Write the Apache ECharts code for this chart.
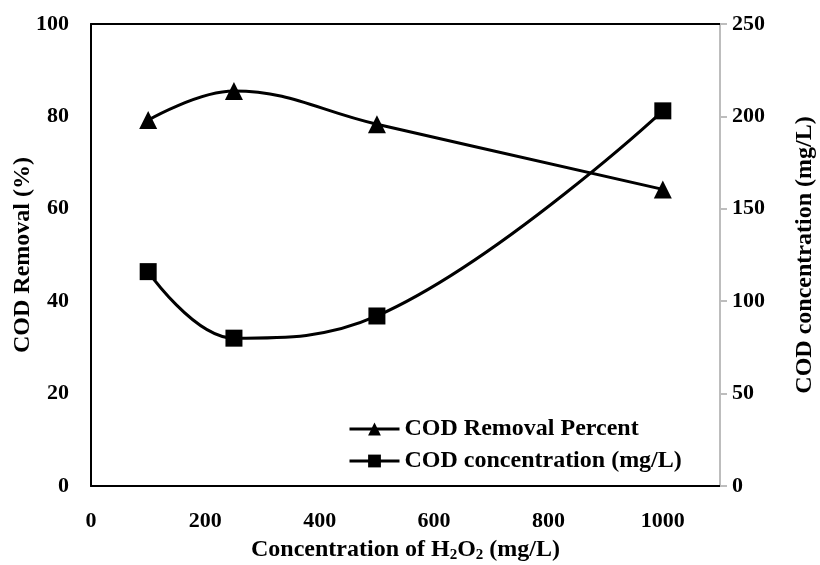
<!DOCTYPE html>
<html>
<head>
<meta charset="utf-8">
<script src="https://cdn.jsdelivr.net/npm/echarts@6/dist/echarts.min.js"></script>
<style>html,body{margin:0;padding:0;background:#fff;}#c{width:820px;height:565px;}</style>
</head>
<body>
<div id="c"></div>
<script>
var h2o2 = [100, 250, 500, 1000];
var codRemoval = [79.2, 85.5, 78.3, 64.2];
var codConc = [116, 80, 92, 203];
var xTicks = [0, 200, 400, 600, 800, 1000];
var font = '"Liberation Serif", "Times New Roman", serif';

var chart = echarts.init(document.getElementById('c'));
chart.setOption({
  animation: false,
  backgroundColor: '#fff',
  textStyle: {fontFamily: font, fontWeight: 'bold', color: '#000'},
  grid: {left: 91, right: 100, top: 24, bottom: 79, outerBoundsMode: 'none', containLabel: false},
  legend: {
    left: 343, top: 412, orient: 'vertical', itemGap: 8, itemWidth: 50, itemHeight: 16,
    lineStyle: {width: 3},
    textStyle: {fontFamily: font, fontWeight: 'bold', fontSize: 24, color: '#000'},
    data: ['COD Removal Percent', 'COD concentration (mg/L)']
  },
  xAxis: [{
    type: 'value', min: 0, max: 1100, interval: 200,
    name: '{a|Concentration of H}{s|2}{a|O}{s|2}{a| (mg/L)}',
    nameLocation: 'middle', nameGap: 50, nameMoveOverlap: false,
    nameTextStyle: {rich: {
      a: {fontFamily: font, fontWeight: 'bold', fontSize: 24, color: '#000'},
      s: {fontFamily: font, fontWeight: 'bold', fontSize: 15, color: '#000', verticalAlign: 'bottom', padding: [12, 0, 0, 0]}
    }},
    axisLine: {onZero: false, lineStyle: {color: '#000', width: 2}},
    axisTick: {show: false},
    splitLine: {show: false},
    axisLabel: {margin: 24, fontSize: 22, fontWeight: 'bold', color: '#000', fontFamily: font,
      formatter: function (v) { return xTicks.indexOf(v) >= 0 ? String(v) : ''; }}
  }, {
    type: 'value', position: 'top', min: 0, max: 1100,
    axisLine: {show: true, onZero: false, lineStyle: {color: '#000', width: 2}},
    axisTick: {show: false}, axisLabel: {show: false}, splitLine: {show: false}
  }],
  yAxis: [{
    type: 'value', min: 0, max: 100, interval: 20, position: 'left',
    name: 'COD Removal (%)', nameLocation: 'middle', nameGap: 56, nameMoveOverlap: false,
    nameTextStyle: {fontFamily: font, fontWeight: 'bold', fontSize: 24, color: '#000'},
    axisLine: {show: true, onZero: false, lineStyle: {color: '#000', width: 2}},
    axisTick: {show: false},
    splitLine: {show: false},
    axisLabel: {margin: 22, fontSize: 22, fontWeight: 'bold', color: '#000', fontFamily: font}
  }, {
    type: 'value', min: 0, max: 250, interval: 50, position: 'right',
    name: 'COD concentration (mg/L)', nameLocation: 'middle', nameGap: 73, nameMoveOverlap: false,
    nameRotate: 90,
    nameTextStyle: {fontFamily: font, fontWeight: 'bold', fontSize: 24, color: '#000'},
    axisLine: {show: true, onZero: false, lineStyle: {color: '#bdbdbd', width: 2}},
    axisTick: {show: true, inside: false, length: 7, lineStyle: {color: '#bdbdbd', width: 2}},
    splitLine: {show: false},
    axisLabel: {margin: 12, fontSize: 22, fontWeight: 'bold', color: '#000', fontFamily: font}
  }],
  series: [{
    name: 'COD Removal Percent', type: 'line', yAxisIndex: 0, smooth: 0.4,
    symbol: 'triangle', symbolSize: 18,
    itemStyle: {color: '#000'}, lineStyle: {color: '#000', width: 3},
    data: h2o2.map(function (x, i) { return [x, codRemoval[i]]; })
  }, {
    name: 'COD concentration (mg/L)', type: 'line', yAxisIndex: 1, smooth: 0.4,
    symbol: 'rect', symbolSize: 17,
    itemStyle: {color: '#000'}, lineStyle: {color: '#000', width: 3},
    data: h2o2.map(function (x, i) { return [x, codConc[i]]; })
  }]
});
</script>
</body>
</html>
